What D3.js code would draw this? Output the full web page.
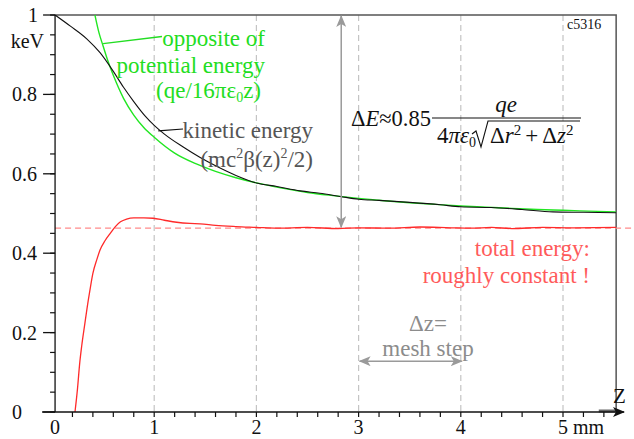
<!DOCTYPE html>
<html>
<head>
<meta charset="utf-8">
<script src="https://cdn.jsdelivr.net/npm/d3@7"></script>
<style>
  body { margin: 0; background: #fff; }
  text { font-family: "Liberation Serif", "Times New Roman", serif; }
</style>
</head>
<body>
<div id="chart"></div>
<script>
// energies of a charge approaching the emitting surface

// opposite of potential energy (green), z in mm, keV
var potZ   = [0.42, 0.46, 0.5, 0.55, 0.6, 0.7, 0.8, 0.9, 1.0, 1.2, 1.4, 1.6, 1.8, 2.0, 2.25, 2.5, 2.75, 3.0, 3.25, 3.5, 3.75, 4.0, 4.25, 4.5, 4.75, 5.0, 5.25, 5.52];
var potE   = [1.0, 0.955, 0.922, 0.882, 0.848, 0.79, 0.748, 0.716, 0.692, 0.652, 0.626, 0.606, 0.59, 0.577, 0.564, 0.553, 0.545, 0.538, 0.532, 0.527, 0.523, 0.519, 0.516, 0.513, 0.51, 0.508, 0.506, 0.504];

// kinetic energy (black)
var kinZ   = [0.03, 0.18, 0.34, 0.47, 0.6, 0.7, 0.8, 0.91, 1.0, 1.1, 1.28, 1.45, 1.61, 1.8, 2.0, 2.2, 2.43, 2.62, 2.82, 3.0, 3.2, 3.5, 3.8, 4.0, 4.3, 4.6, 4.9, 5.2, 5.52];
var kinE   = [1.0, 0.972, 0.94, 0.905, 0.858, 0.818, 0.782, 0.746, 0.722, 0.7, 0.668, 0.641, 0.619, 0.596, 0.577, 0.568, 0.557, 0.551, 0.543, 0.536, 0.533, 0.528, 0.522, 0.517, 0.515, 0.51, 0.504, 0.503, 0.502];

// total energy (red)
var totZ   = [0.225, 0.25, 0.27, 0.29, 0.32, 0.345, 0.37, 0.4, 0.44, 0.47, 0.52, 0.57, 0.62, 0.67, 0.73, 0.8, 0.9, 0.99, 1.1, 1.22, 1.35, 1.45, 1.6, 1.8, 2.0, 2.2, 2.5, 2.8, 3.0, 3.3, 3.6, 3.9, 4.1, 4.3, 4.5, 4.8, 5.1, 5.52];
var totE   = [0.0, 0.06, 0.12, 0.165, 0.22, 0.265, 0.305, 0.349, 0.385, 0.408, 0.432, 0.45, 0.467, 0.479, 0.486, 0.489, 0.489, 0.488, 0.483, 0.478, 0.475, 0.474, 0.47, 0.467, 0.465, 0.463, 0.465, 0.462, 0.464, 0.463, 0.466, 0.464, 0.463, 0.465, 0.462, 0.465, 0.464, 0.465];

var totalLevel = 0.463;   // dashed reference level

var xTicksMajor = [0, 1, 2, 3, 4, 5];
var xTickLabels = ["0", "1", "2", "3", "4", "5 mm"];
var yTicksMajor = [0, 0.2, 0.4, 0.6, 0.8, 1];
var yTickLabels = ["0", "0.2", "0.4", "0.6", "0.8", "1"];

var width = 634, height = 439;

var svg = d3.select("#chart").append("svg")
    .attr("width", width)
    .attr("height", height);

var x = d3.scaleLinear().domain([0, 5]).range([52, 563]);
var y = d3.scaleLinear().domain([0, 1]).range([412, 15]);

var x0 = x(0.03), x1 = x(5.52), yTop = y(1), yBot = y(0);

// arrow markers
var defs = svg.append("defs");
defs.append("marker")
    .attr("id", "grayHead")
    .attr("viewBox", "0 0 12 10")
    .attr("refX", 11).attr("refY", 5)
    .attr("markerWidth", 12).attr("markerHeight", 10)
    .attr("markerUnits", "userSpaceOnUse")
    .attr("orient", "auto-start-reverse")
    .append("path")
    .attr("d", "M0,0 L12,5 L0,10 L3,5 Z")
    .attr("fill", "#9a9a9a");
defs.append("marker")
    .attr("id", "axisHead")
    .attr("viewBox", "0 0 12 10")
    .attr("refX", 11).attr("refY", 5)
    .attr("markerWidth", 12).attr("markerHeight", 10)
    .attr("markerUnits", "userSpaceOnUse")
    .attr("orient", "auto")
    .append("path")
    .attr("d", "M0,0 L12,5 L0,10 L3,5 Z")
    .attr("fill", "#111");
defs.append("clipPath").attr("id", "plotClip")
    .append("rect")
    .attr("x", x0).attr("y", yTop - 1)
    .attr("width", x1 - x0).attr("height", yBot - yTop + 1);

// vertical dashed grid
svg.selectAll(".grid")
    .data(xTicksMajor.slice(1))
    .enter().append("line")
    .attr("class", "grid")
    .attr("x1", d => x(d)).attr("x2", d => x(d))
    .attr("y1", yTop).attr("y2", yBot)
    .attr("stroke", "#c4c4c4")
    .attr("stroke-width", 1.2)
    .attr("stroke-dasharray", "6,4");

// frame (top and right)
svg.append("path")
    .attr("d", "M" + x0 + "," + yTop + "H" + x1 + "V" + yBot)
    .attr("fill", "none")
    .attr("stroke", "#555")
    .attr("stroke-width", 1.5);
svg.append("line")
    .attr("x1", x(5.35)).attr("x2", x1)
    .attr("y1", yBot - 1).attr("y2", yBot - 1)
    .attr("stroke", "#666").attr("stroke-width", 3);

// dashed total energy level
svg.append("line")
    .attr("x1", x0).attr("x2", width)
    .attr("y1", y(totalLevel)).attr("y2", y(totalLevel))
    .attr("stroke", "#ff8a8a")
    .attr("stroke-width", 1.3)
    .attr("stroke-dasharray", "6,4");

// curves
var curves = svg.append("g").attr("clip-path", "url(#plotClip)");
function drawCurve(zs, es, color, w){
  var pts = zs.map((z, i) => [z, es[i]]);
  curves.append("path")
      .datum(pts)
      .attr("fill", "none")
      .attr("stroke", color)
      .attr("stroke-width", w)
      .attr("d", d3.line().x(d => x(d[0])).y(d => y(d[1])).curve(d3.curveMonotoneX));
}
drawCurve(potZ, potE, "#22e622", 1.4);
drawCurve(kinZ, kinE, "#111", 1.1);
drawCurve(totZ, totE, "#ff2a2a", 1.3);

// y axis
svg.append("line")
    .attr("x1", x0).attr("x2", x0)
    .attr("y1", yTop).attr("y2", yBot)
    .attr("stroke", "#111").attr("stroke-width", 1.3);
var yMinor = d3.range(0, 1.0001, 0.05);
svg.selectAll(".yminor")
    .data(yMinor)
    .enter().append("line")
    .attr("x1", x0 - 5).attr("x2", x0)
    .attr("y1", d => y(d)).attr("y2", d => y(d))
    .attr("stroke", "#111").attr("stroke-width", 1.2);
svg.selectAll(".ymajor")
    .data(yTicksMajor)
    .enter().append("line")
    .attr("x1", x0 - 12).attr("x2", x0)
    .attr("y1", d => y(d)).attr("y2", d => y(d))
    .attr("stroke", "#111").attr("stroke-width", 1.3);
svg.selectAll(".ylabel")
    .data(yTicksMajor)
    .enter().append("text")
    .attr("x", d => d === 1 ? 28 : 12)
    .attr("y", d => y(d) + 7)
    .attr("font-size", 20)
    .attr("fill", "#111")
    .text((d, i) => yTickLabels[i]);
svg.append("text")
    .attr("x", x0 - 11).attr("y", 48)
    .attr("text-anchor", "end")
    .attr("font-size", 20)
    .attr("fill", "#111")
    .text("keV");

// x axis with arrow
svg.append("line")
    .attr("x1", x0 - 13).attr("x2", 624)
    .attr("y1", yBot).attr("y2", yBot)
    .attr("stroke", "#111").attr("stroke-width", 1.3)
    .attr("marker-end", "url(#axisHead)");
svg.selectAll(".xminor")
    .data(d3.range(1, 28).map(i => i * 0.2))
    .enter().append("line")
    .attr("x1", d => x(d)).attr("x2", d => x(d))
    .attr("y1", yBot).attr("y2", yBot + 5)
    .attr("stroke", "#111").attr("stroke-width", 1.2);
svg.selectAll(".xlabel")
    .data(xTicksMajor)
    .enter().append("text")
    .attr("x", d => (d === 0 ? x0 : x(d)) - 5)
    .attr("y", 434)
    .attr("font-size", 20)
    .attr("fill", "#111")
    .text((d, i) => xTickLabels[i]);
svg.append("text")
    .attr("x", 613).attr("y", 403)
    .attr("font-size", 21)
    .attr("fill", "#111")
    .text("Z");

// c5316 tag
svg.append("text")
    .attr("x", 567).attr("y", 29)
    .attr("font-size", 14)
    .attr("fill", "#111")
    .text("c5316");

// green annotation
var green = "#22dd22";
svg.append("line")
    .attr("x1", x(0.5)).attr("y1", y(0.928))
    .attr("x2", 162).attr("y2", 36.5)
    .attr("stroke", green).attr("stroke-width", 1.3);
var gText = svg.append("text")
    .attr("text-anchor", "end")
    .attr("font-size", 23)
    .attr("fill", green);
gText.append("tspan").attr("x", 265).attr("y", 46).text("opposite of");
gText.append("tspan").attr("x", 265).attr("y", 73).text("potential energy");
gText.append("tspan").attr("x", 261).attr("y", 98).text("(qe/16πε");
gText.append("tspan").attr("font-size", 14).attr("dy", 4).text("0");
gText.append("tspan").attr("dy", -4).text("z)");

// kinetic annotation
svg.append("line")
    .attr("x1", x(1.04)).attr("y1", y(0.708))
    .attr("x2", 183).attr("y2", 129)
    .attr("stroke", "#111").attr("stroke-width", 1.2);
var kText = svg.append("text")
    .attr("text-anchor", "end")
    .attr("font-size", 23)
    .attr("fill", "#555");
kText.append("tspan").attr("x", 313).attr("y", 138).text("kinetic energy");
kText.append("tspan").attr("x", 313).attr("y", 167).text("(mc");
kText.append("tspan").attr("font-size", 14).attr("dy", -9).text("2");
kText.append("tspan").attr("dy", 9).text("β(z)");
kText.append("tspan").attr("font-size", 14).attr("dy", -9).text("2");
kText.append("tspan").attr("dy", 9).text("/2)");

// vertical ΔE arrow
svg.append("line")
    .attr("x1", x(2.83)).attr("x2", x(2.83))
    .attr("y1", y(totalLevel) - 1).attr("y2", yTop + 1)
    .attr("stroke", "#9a9a9a").attr("stroke-width", 1.5)
    .attr("marker-start", "url(#grayHead)")
    .attr("marker-end", "url(#grayHead)");

// formula
var fBar = 118;
var f1 = svg.append("text").attr("x", 431).attr("y", fBar + 8)
    .attr("text-anchor", "end").attr("font-size", 22.5).attr("fill", "#111");
f1.append("tspan").text("Δ");
f1.append("tspan").attr("font-style", "italic").text("E");
f1.append("tspan").text("≈0.85");
svg.append("line")
    .attr("x1", 432).attr("x2", 581)
    .attr("y1", fBar).attr("y2", fBar)
    .attr("stroke", "#111").attr("stroke-width", 1.1);
svg.append("text")
    .attr("x", 506).attr("y", fBar - 6)
    .attr("text-anchor", "middle")
    .attr("font-size", 23).attr("font-style", "italic")
    .attr("fill", "#111")
    .text("qe");
var f2 = svg.append("text").attr("x", 437).attr("y", fBar + 25).attr("font-size", 23).attr("fill", "#111");
f2.append("tspan").text("4");
f2.append("tspan").attr("font-style", "italic").text("πε");
f2.append("tspan").attr("font-size", 14).attr("dy", 4).text("0");
svg.append("path")
    .attr("d", "M472,134 L476,131 L481,147 L488,121 L580,121")
    .attr("fill", "none").attr("stroke", "#111").attr("stroke-width", 1.1);
var f3 = svg.append("text").attr("x", 490).attr("y", fBar + 25).attr("font-size", 23).attr("fill", "#111");
f3.append("tspan").text("Δ");
f3.append("tspan").attr("font-style", "italic").text("r");
f3.append("tspan").attr("font-size", 15).attr("dy", -8).text("2");
f3.append("tspan").attr("dy", 8).attr("dx", 4).text("+");
f3.append("tspan").attr("dx", 4).text("Δ");
f3.append("tspan").attr("font-style", "italic").text("z");
f3.append("tspan").attr("font-size", 15).attr("dy", -8).text("2");

// total energy annotation
var rText = svg.append("text")
    .attr("text-anchor", "end")
    .attr("font-size", 23)
    .attr("fill", "#ff5a5a");
rText.append("tspan").attr("x", 590).attr("y", 256).text("total energy:");
rText.append("tspan").attr("x", 590).attr("y", 283).text("roughly constant !");

// mesh step annotation
var mText = svg.append("text")
    .attr("text-anchor", "middle")
    .attr("font-size", 23)
    .attr("fill", "#8c8c8c");
mText.append("tspan").attr("x", 428).attr("y", 331).text("Δz=");
mText.append("tspan").attr("x", 428).attr("y", 356).text("mesh step");
svg.append("line")
    .attr("x1", x(3) + 1).attr("x2", x(4) + 1)
    .attr("y1", y(0.128)).attr("y2", y(0.128))
    .attr("stroke", "#9a9a9a").attr("stroke-width", 1.5)
    .attr("marker-start", "url(#grayHead)")
    .attr("marker-end", "url(#grayHead)");
</script>
</body>
</html>
